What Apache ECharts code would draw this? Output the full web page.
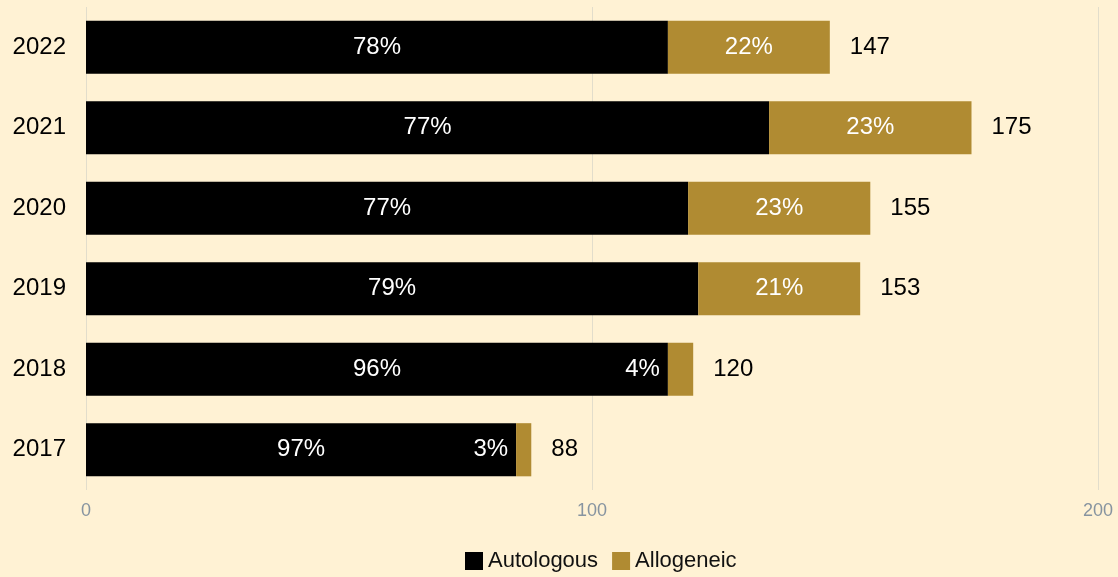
<!DOCTYPE html>
<html>
<head>
<meta charset="utf-8">
<script src="https://cdn.jsdelivr.net/npm/echarts@6/dist/echarts.min.js"></script>
<style>
  html, body { margin: 0; padding: 0; background: #FFF2D4; }
  #chart { width: 1118px; height: 577px; }
</style>
</head>
<body>
<div id="chart"></div>
<script>
  var years = ['2017', '2018', '2019', '2020', '2021', '2022']
  var autologous = [85, 115, 121, 119, 135, 115]
  var allogeneic = [3, 5, 32, 36, 40, 32]
  var xTicks = [0, 100, 200]

  var totals = []
  for (var i = 0; i < years.length; i++) {
    totals.push(autologous[i] + allogeneic[i])
  }

  function pct(v, i) {
    return Math.round(v / totals[i] * 100) + '%'
  }

  var font = 'Liberation Sans, Arial, sans-serif'

  // small allogeneic shares get their label put left of the segment
  var alloData = allogeneic.map(function (v, i) {
    var item = { value: v }
    if (v / totals[i] < 0.1) {
      item.label = { position: 'left', distance: 8 }
    }
    return item
  })

  var chart = echarts.init(document.getElementById('chart'))
  chart.setOption({
    backgroundColor: '#FFF2D4',
    textStyle: { fontFamily: font },
    legend: {
      top: 545,
      left: 460,
      itemWidth: 18,
      itemHeight: 18,
      itemGap: 14,
      icon: 'rect',
      textStyle: { fontSize: 22, color: '#111', fontFamily: font },
      data: ['Autologous', 'Allogeneic']
    },
    grid: {
      left: 86,
      right: 20,
      top: 7,
      bottom: 87,
      containLabel: false
    },
    xAxis: {
      type: 'value',
      min: xTicks[0],
      max: xTicks[xTicks.length - 1],
      interval: 100,
      axisLine: { show: false },
      axisTick: { show: false },
      splitLine: { show: true, lineStyle: { color: '#E2DDCB', width: 1 } },
      axisLabel: { color: '#8794A0', fontSize: 18, margin: 12, fontFamily: font }
    },
    yAxis: {
      type: 'category',
      data: years,
      axisLine: { show: false },
      axisTick: { show: false },
      axisLabel: { color: '#000', fontSize: 24, margin: 20, fontFamily: font }
    },
    series: [
      {
        name: 'Autologous',
        type: 'bar',
        stack: 'total',
        barWidth: '66%',
        itemStyle: { color: '#000000' },
        label: {
          show: true,
          position: 'inside',
          color: '#fff',
          fontSize: 24,
          fontFamily: font,
          formatter: function (p) { return pct(p.value, p.dataIndex) }
        },
        data: autologous
      },
      {
        name: 'Allogeneic',
        type: 'bar',
        stack: 'total',
        barWidth: '66%',
        itemStyle: { color: '#B08B32' },
        label: {
          show: true,
          position: 'inside',
          color: '#fff',
          fontSize: 24,
          fontFamily: font,
          formatter: function (p) { return pct(p.value, p.dataIndex) }
        },
        data: alloData
      },
      {
        name: 'Total',
        type: 'bar',
        barWidth: '66%',
        barGap: '-100%',
        silent: true,
        z: 1,
        itemStyle: { color: 'rgba(0,0,0,0)' },
        label: {
          show: true,
          position: 'right',
          distance: 20,
          color: '#000',
          fontSize: 24,
          fontFamily: font
        },
        data: totals
      }
    ]
  })
</script>
</body>
</html>
